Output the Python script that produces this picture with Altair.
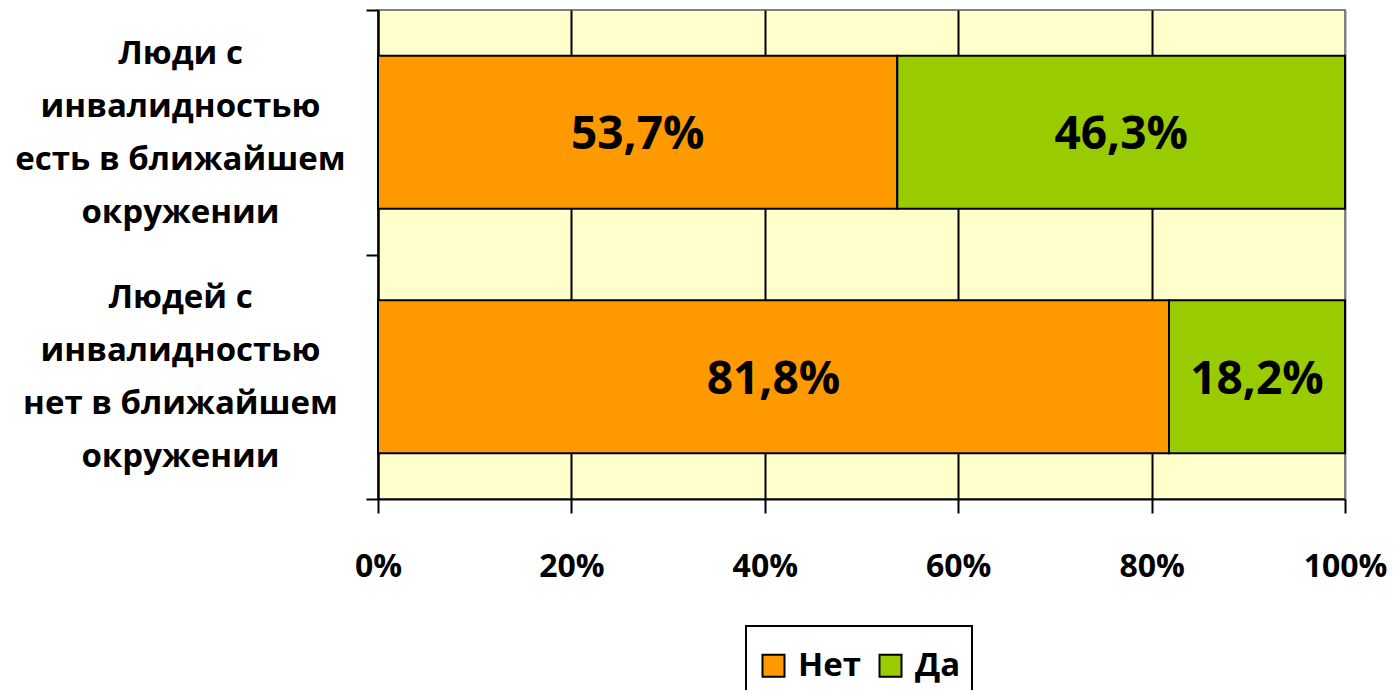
import altair as alt
import pandas as pd

categories = ["Люди с|инвалидностью|есть в ближайшем|окружении",
              "Людей с|инвалидностью|нет в ближайшем|окружении"]
series = ["Нет", "Да"]
net_values = [53.7, 81.8]
da_values = [46.3, 18.2]
colors = ["#FF9900", "#99CC00"]
x_ticks = [0, 0.2, 0.4, 0.6, 0.8, 1.0]

rows = []
for i, c in enumerate(categories):
    rows.append({"cat": c, "series": series[0], "order": 0, "value": net_values[i]})
    rows.append({"cat": c, "series": series[1], "order": 1, "value": da_values[i]})
df = pd.DataFrame(rows)

FONT = "Open Sans"

base = alt.Chart(df).transform_stack(
    stack="value", groupby=["cat"], as_=["v0", "v1"], sort=[alt.SortField("order")]
).transform_calculate(
    x0="datum.v0/100", x1="datum.v1/100", mid="(datum.v0+datum.v1)/200",
    label="replace(format(datum.value, '.1f'), '.', ',') + '%'"
)

y_enc = alt.Y(
    "cat:N", sort=categories,
    scale=alt.Scale(paddingInner=0, paddingOuter=0),
    axis=alt.Axis(
        title=None, labelExpr="split(datum.label, '|')", labelAlign="center",
        labelBaseline="middle", labelPadding=186, labelOffset=-79, tickSize=12,
        tickBand="extent",
        labelFontSize=33, labelFont=FONT, labelFontWeight="bold", labelLineHeight=53,
        labelColor="black", labelLimit=500, domainColor="black", domainWidth=2,
        tickColor="black", tickWidth=2, grid=False,
    ),
)

bars = base.mark_bar(stroke="black", strokeWidth=2, height={"band": 0.625}).encode(
    x=alt.X(
        "x0:Q", scale=alt.Scale(domain=[0, 1], nice=False),
        axis=alt.Axis(
            title=None, format=".0%", values=x_ticks, tickSize=14, labelPadding=38,
            labelFontSize=32, labelFont=FONT, labelFontWeight="bold", labelColor="black",
            labelFlush=False, grid=True,
            gridColor={"condition": {"test": "datum.value >= 1", "value": "#808080"},
                       "value": "black"},
            gridWidth=2,
            domainColor="black", domainWidth=2, tickColor="black", tickWidth=2,
        ),
    ),
    x2="x1:Q",
    y=y_enc,
    color=alt.Color(
        "series:N", scale=alt.Scale(domain=series, range=colors),
        legend=alt.Legend(
            title=" ", titleFontSize=10, titlePadding=2,
            orient="none", legendX=368, legendY=616, direction="horizontal",
            symbolType="square", symbolSize=484, symbolStrokeColor="black",
            symbolStrokeWidth=2, symbolOpacity=1, labelFontSize=33, labelFont=FONT,
            labelFontWeight="bold", labelColor="black", strokeColor="black",
            fillColor="white", padding=11, columnPadding=12, labelOffset=8,
        ),
    ),
)

text = base.mark_text(fontSize=46, fontWeight="bold", font=FONT, color="black", dy=3).encode(
    x="mid:Q",
    y=alt.Y("cat:N", sort=categories),
    text="label:N",
)

chart = alt.layer(bars, text).properties(
    width=967, height=489,
    autosize=alt.AutoSizeParams(type="none"),
    padding={"left": 370, "top": 2, "right": 42, "bottom": 200},
).configure_view(
    fill="#FFFFCC", stroke="#808080", strokeWidth=2
).configure_legend(strokeWidth=2)

chart.save("out.html", embed_options={"renderer": "svg", "actions": False})
